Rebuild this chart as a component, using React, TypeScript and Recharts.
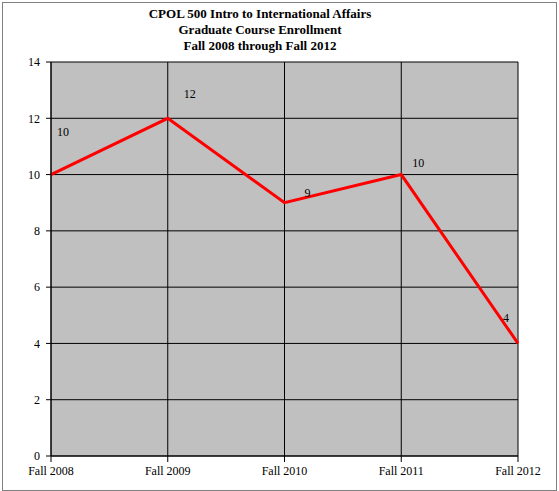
import { LineChart, Line, XAxis, YAxis, CartesianGrid, LabelList } from 'recharts';

// 학기별 수강 인원
const terms = ['Fall 2008', 'Fall 2009', 'Fall 2010', 'Fall 2011', 'Fall 2012'];
const enrollment = [10, 12, 9, 10, 4];
const yTicks = [0, 2, 4, 6, 8, 10, 12, 14];
const titleLines = [
  'CPOL 500 Intro to International Affairs',
  'Graduate Course Enrollment',
  'Fall 2008 through Fall 2012',
];

const data = terms.map((term, i) => ({ term, value: enrollment[i] }));

// 엑셀 원본처럼 라벨이 점에서 조금씩 떨어져 있음
const LABEL_OFFSETS: [number, number][] = [
  [12, -43],
  [22, -24],
  [23, -10],
  [17, -12],
  [-12, -25],
];

const FONT = '"Liberation Serif", "Times New Roman", serif';

const renderLabel = (props: any) => {
  const { x, y, value, index } = props;
  const [dx, dy] = LABEL_OFFSETS[index] ?? [0, -10];
  return (
    <text
      x={x + dx}
      y={y + dy}
      textAnchor="middle"
      dominantBaseline="central"
      fontSize={12}
      style={{ fontFamily: FONT }}
      fill="#000"
    >
      {value}
    </text>
  );
};

export default function App() {
  return (
    <div
      style={{
        position: 'absolute',
        left: 0,
        top: 0,
        width: 559,
        height: 491,
        background: '#fff',
        fontFamily: FONT,
      }}
    >
      <div
        style={{
          position: 'absolute',
          left: 2,
          top: 2,
          width: 553,
          height: 487,
          border: '1px solid #808080',
        }}
      />
      <div
        style={{
          position: 'absolute',
          left: 60,
          width: 400,
          top: 6,
          textAlign: 'center',
          fontWeight: 'bold',
          fontSize: 13,
          lineHeight: '16px',
        }}
      >
        {titleLines.map((t) => (
          <div key={t}>{t}</div>
        ))}
      </div>
      <div style={{ position: 'absolute', left: 0, top: 0 }}>
        <LineChart width={559} height={491} data={data} margin={{ top: 62, right: 41, bottom: 0, left: 0 }}>
          <CartesianGrid stroke="#000" fill="#c0c0c0" strokeWidth={1} />
          <XAxis
            dataKey="term"
            height={35}
            stroke="#000"
            tickSize={6}
            tick={{ fill: '#000', fontSize: 12, style: { fontFamily: FONT } }}
            tickMargin={4}
            interval={0}
          />
          <YAxis
            width={51}
            domain={[0, 14]}
            ticks={yTicks}
            stroke="#000"
            tickSize={5}
            tick={{ fill: '#000', fontSize: 12, style: { fontFamily: FONT } }}
            tickMargin={6}
          />
          <Line
            type="linear"
            dataKey="value"
            stroke="#ff0000"
            strokeWidth={3}
            dot={false}
            isAnimationActive={false}
          >
            <LabelList dataKey="value" content={renderLabel} />
          </Line>
        </LineChart>
      </div>
    </div>
  );
}
